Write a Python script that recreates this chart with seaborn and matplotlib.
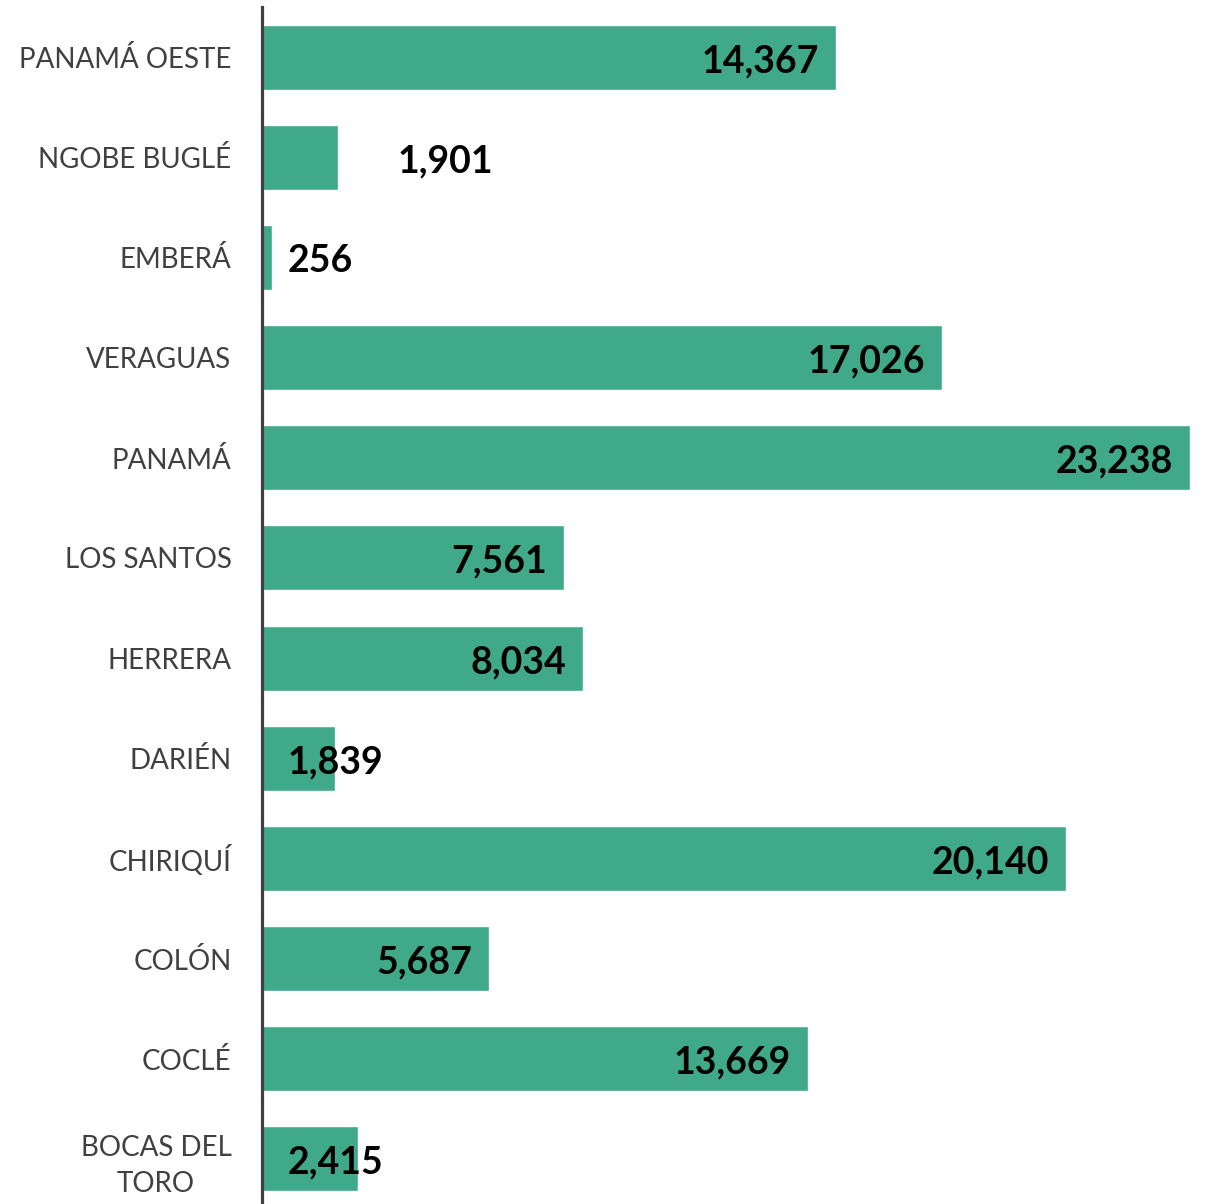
import pandas as pd
import matplotlib.pyplot as plt
import seaborn as sns

# provincias / comarcas, de arriba hacia abajo
provincias = ['PANAMÁ OESTE', 'NGOBE BUGLÉ', 'EMBERÁ', 'VERAGUAS', 'PANAMÁ',
              'LOS SANTOS', 'HERRERA', 'DARIÉN', 'CHIRIQUÍ', 'COLÓN', 'COCLÉ',
              'BOCAS DEL\nTORO']
valores = [14367, 1901, 256, 17026, 23238, 7561, 8034, 1839, 20140, 5687, 13669, 2415]

df = pd.DataFrame({'provincia': provincias, 'valor': valores})

sns.set_style('white')
plt.rcParams['font.family'] = ['Lato', 'DejaVu Sans']

fig = plt.figure(figsize=(12.15, 12.04), dpi=100)
ax = fig.add_axes([262 / 1215, -5 / 1204, (1190 - 262) / 1215, 1202 / 1204])

sns.barplot(data=df, x='valor', y='provincia', order=provincias,
            color='#3fa98a', saturation=1, width=0.65, orient='h', ax=ax)

ax.set_xlim(0, max(valores))
ax.set_ylim(len(provincias) - 0.5, -0.5)
ax.set_xlabel('')
ax.set_ylabel('')
ax.set_xticks([])
ax.tick_params(axis='y', length=0, pad=22, labelsize=20, labelcolor='#404040')
for lbl in ax.get_yticklabels():
    lbl.set_horizontalalignment('right')
    lbl.set_multialignment('center')
    lbl.set_linespacing(1.45)

for side in ['top', 'right', 'bottom']:
    ax.spines[side].set_visible(False)
ax.spines['left'].set_color('#404040')
ax.spines['left'].set_linewidth(2.3)

# etiquetas de datos: dentro del extremo si caben, si no afuera
xmax = max(valores)
for i, v in enumerate(valores):
    texto = f'{v:,}'
    if v > 5000:
        ax.text(v - 0.018 * xmax, i + 0.04, texto, ha='right', va='center',
                fontsize=27, fontweight='bold', color='black')
    elif v == 1901:
        ax.text(0.1466 * xmax, i + 0.04, texto, ha='left', va='center',
                fontsize=27, fontweight='bold', color='black')
    else:
        ax.text(0.028 * xmax, i + 0.04, texto, ha='left', va='center',
                fontsize=27, fontweight='bold', color='black')

plt.savefig('out.png', dpi=100)
